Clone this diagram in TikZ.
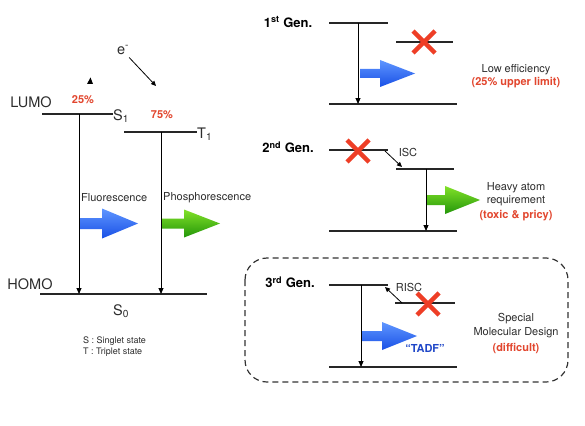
\documentclass[tikz,border=0pt]{standalone}
\usepackage{fontspec}
\setmainfont{TeX Gyre Heros}
\usetikzlibrary{arrows.meta}
\definecolor{xred}{RGB}{238,62,38}
\definecolor{tred}{RGB}{226,70,46}
\definecolor{tblue}{RGB}{30,70,200}
\definecolor{bluetop}{RGB}{95,150,255}
\definecolor{bluebot}{RGB}{25,80,230}
\definecolor{greentop}{RGB}{130,225,40}
\definecolor{greenbot}{RGB}{35,150,10}
\definecolor{txt}{RGB}{45,45,45}
\newcommand{\fatarr}[8]{%
  \shade[top color=#7, bottom color=#8]
    (#1,{#2-#6}) -- ({#1+#4},{#2-#6}) -- ({#1+#4},{#2-#5}) -- ({#1+#3},#2)
    -- ({#1+#4},{#2+#5}) -- ({#1+#4},{#2+#6}) -- (#1,{#2+#6}) -- cycle;}
\newcommand{\redx}[2]{%
  \draw[xmark] ({#1-11},{#2-11}) -- ({#1+11},{#2+11});
  \draw[xmark] ({#1-11},{#2+11}) -- ({#1+11},{#2-11});}
\tikzset{
  level/.style={line width=1.1pt, draw=black!85},
  decay/.style={line width=0.9pt, draw=black, -{Triangle[length=6pt,width=5pt]}},
  small/.style={-{Triangle[length=5pt,width=4.5pt]}, line width=0.8pt, draw=black},
  xmark/.style={line width=4.5pt, draw=xred},
  lbl/.style={font=\fontsize{11}{13}\selectfont, text=txt, inner sep=0pt},
  big/.style={font=\fontsize{14.5}{16}\selectfont, text=txt, inner sep=0pt},
  red/.style={font=\fontsize{11}{13}\selectfont\bfseries, text=tred, inner sep=0pt},
  gen/.style={font=\fontsize{13}{15}\selectfont\bfseries, text=black, inner sep=0pt},
}
\begin{document}
\begin{tikzpicture}[x=1pt,y=-1pt]
\useasboundingbox (0,0) rectangle (585,425);
\fill[white] (0,0) rectangle (585,425);

% ---------------- left diagram ----------------
\node[big] (e) at (123,50) {e\textsuperscript{-}};
\coordinate (etip) at (156,86);
\draw[small] (e.south east) ++(0,3) -- (etip);
\fill[black] (87,84) -- (90.5,77.5) -- (93,84) -- cycle;

\node[big] (lumo) at (31,102) {LUMO};
\node[red] (p25) at (83,100) {25\%};
\node[red] (p75) at (162,115) {75\%};

\coordinate (s1a) at (42,114);
\coordinate (s1b) at (113,114);
\draw[level] (s1a) -- (s1b);
\node[big, anchor=west] (s1) at (113,116) {S\textsubscript{1}};

\coordinate (t1a) at (124,132);
\coordinate (t1b) at (197,132);
\draw[level] (t1a) -- (t1b);
\node[big, anchor=west] (t1) at (197,134) {T\textsubscript{1}};

\coordinate (h0a) at (40,294);
\coordinate (h0b) at (207,294);
\draw[level] (h0a) -- (h0b);
\node[big] (homo) at (30,284) {HOMO};
\node[big] (s0) at (121,311) {S\textsubscript{0}};

\coordinate (fs) at (79,114);
\coordinate (fe) at (79,294);
\draw[decay] (fs) -- (fe);
\coordinate (ps) at (161,132);
\coordinate (pe) at (161,294);
\draw[decay] (ps) -- (pe);

\node[lbl, anchor=west] (fl) at (81,198) {Fluorescence};
\node[lbl, anchor=west] (ph) at (163,198) {Phosphorescence};
\fatarr{80}{223.5}{58}{22}{15}{5.5}{bluetop}{bluebot}
\fatarr{162}{223.5}{58}{22}{14}{5}{greentop}{greenbot}

\node[lbl, anchor=west, font=\fontsize{9}{11}\selectfont] (ss) at (83,341) {S : Singlet state};
\node[lbl, anchor=west, font=\fontsize{9}{11}\selectfont] (ts) at (83,352) {T : Triplet state};

% ---------------- 1st generation ----------------
\node[gen] (g1) at (288,22) {1\textsuperscript{st} Gen.};
\coordinate (a1) at (329,23); \coordinate (b1) at (388,23);
\draw[level] (a1) -- (b1);
\coordinate (c1) at (396,42); \coordinate (d1) at (453,42);
\draw[level] (c1) -- (d1);
\coordinate (e1) at (329,104); \coordinate (f1) at (457,104);
\draw[level] (e1) -- (f1);
\coordinate (v1s) at (358,23); \coordinate (v1e) at (358,104);
\draw[decay] (v1s) -- (v1e);
\fatarr{360}{73.5}{55}{20}{13.5}{4.5}{bluetop}{bluebot}
\redx{424}{42}
\node[lbl] (le) at (516,70) {Low efficiency};
\node[red] (ul) at (516,83) {(25\% upper limit)};

% ---------------- 2nd generation ----------------
\node[gen] (g2) at (288,147) {2\textsuperscript{nd} Gen.};
\coordinate (a2) at (329,150); \coordinate (b2) at (388,150);
\draw[level] (a2) -- (b2);
\coordinate (c2) at (396,169); \coordinate (d2) at (454,169);
\draw[level] (c2) -- (d2);
\coordinate (e2) at (329,231); \coordinate (f2) at (457,231);
\draw[level] (e2) -- (f2);
\coordinate (isc1) at (385,151); \coordinate (isc2) at (402,167);
\draw[small] (isc1) -- (isc2);
\node[lbl] (isc) at (408,152) {ISC};
\coordinate (v2s) at (426,169); \coordinate (v2e) at (426,231);
\draw[decay] (v2s) -- (v2e);
\fatarr{427}{200}{53}{18}{14}{5}{greentop}{greenbot}
\redx{358}{151}
\node[lbl] (ha) at (516,188) {Heavy atom};
\node[lbl] (rq) at (516,201) {requirement};
\node[red] (tp) at (516,216) {(toxic \& pricy)};

% ---------------- 3rd generation ----------------
\draw[line width=1.2pt, draw=black!80, dash pattern=on 6pt off 4pt, rounded corners=22pt]
  (245,258) rectangle (568,382);
\node[gen] (g3) at (290,282) {3\textsuperscript{rd} Gen.};
\coordinate (a3) at (329,285); \coordinate (b3) at (388,285);
\draw[level] (a3) -- (b3);
\coordinate (c3) at (395,303); \coordinate (d3) at (455,303);
\draw[level] (c3) -- (d3);
\coordinate (e3) at (329,367); \coordinate (f3) at (457,367);
\draw[level] (e3) -- (f3);
\coordinate (r1) at (402,303); \coordinate (r2) at (385,287);
\draw[small] (r1) -- (r2);
\node[lbl] (risc) at (409,287) {RISC};
\coordinate (v3s) at (361,285); \coordinate (v3e) at (361,367);
\draw[decay] (v3s) -- (v3e);
\fatarr{362}{336}{55}{20}{14}{5}{bluetop}{bluebot}
\redx{428}{304}
\node[lbl, font=\fontsize{11}{13}\selectfont\bfseries, text=tblue] (tadf) at (425,348) {“TADF”};
\node[lbl] (sp) at (516,319) {Special};
\node[lbl] (md) at (516,333) {Molecular Design};
\node[red] (df) at (516,348) {(difficult)};
\end{tikzpicture}
\end{document}
